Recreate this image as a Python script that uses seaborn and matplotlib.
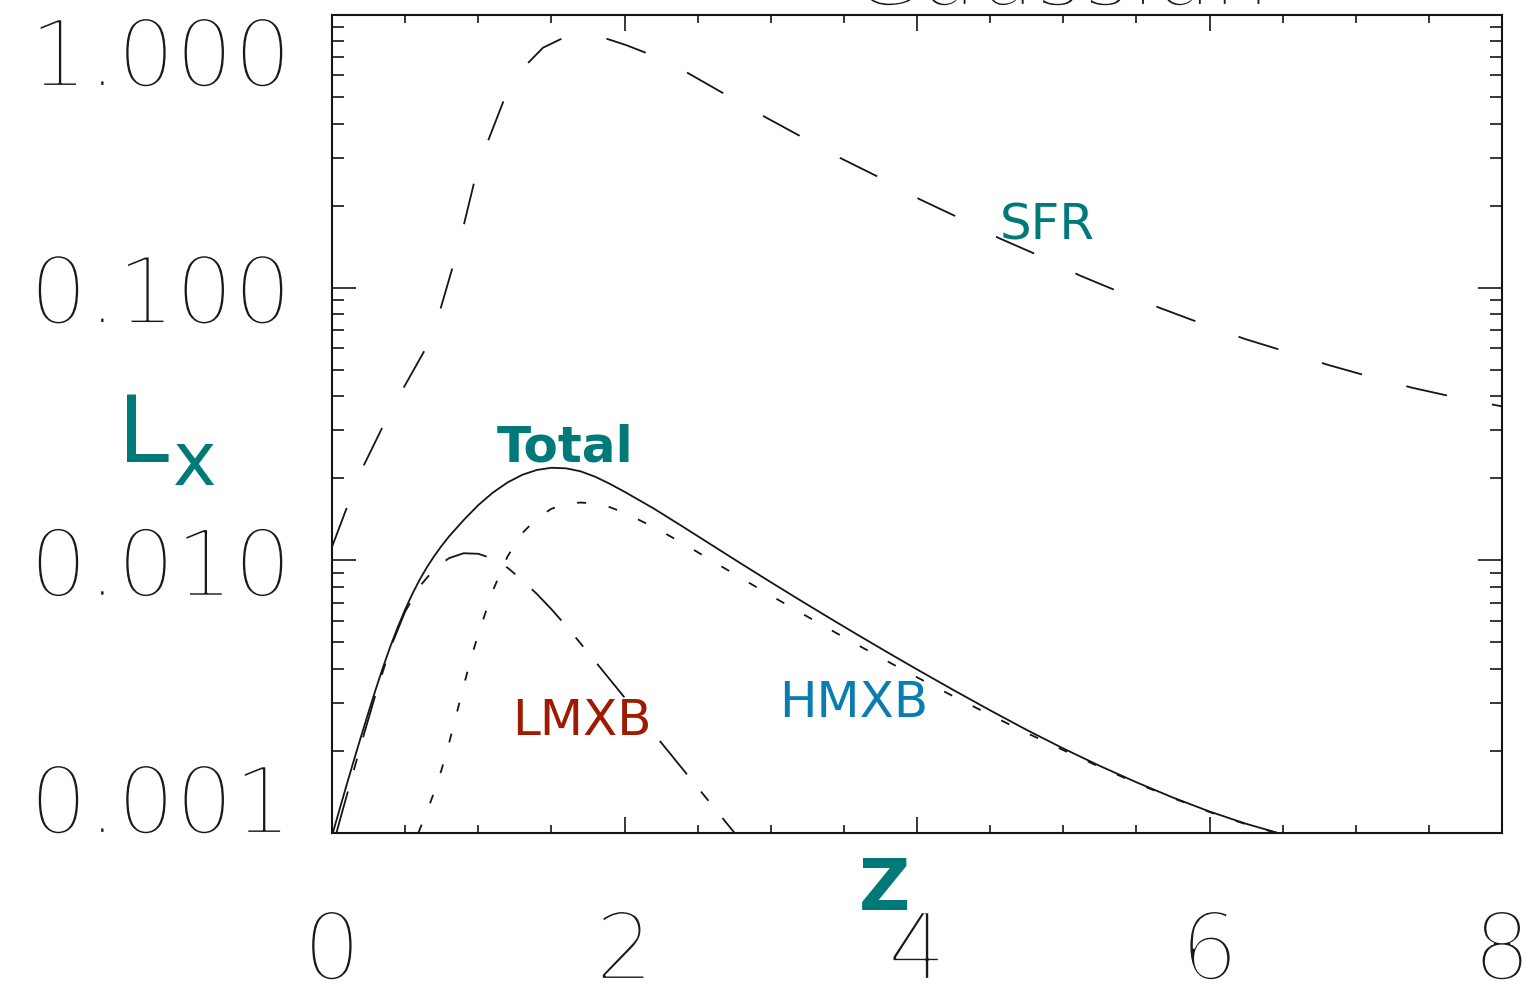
import numpy as np
import pandas as pd
import matplotlib
matplotlib.use("Agg")
import matplotlib.pyplot as plt
from matplotlib import font_manager
from matplotlib import patheffects as pe
from matplotlib.ticker import LogLocator, MultipleLocator, NullFormatter
import seaborn as sns

# ---------------- data ----------------
sfr_z = [0.0, 0.109, 0.212, 0.349, 0.485, 0.636, 0.738, 0.823, 0.898, 0.971,
         1.062, 1.171, 1.320, 1.443, 1.571, 1.718, 1.867, 2.01, 2.154, 2.421,
         2.696, 2.946, 3.225, 3.475, 3.76, 4.018, 4.30, 4.56, 4.85, 5.11,
         5.40, 5.66, 5.975, 6.24, 6.55, 6.81, 7.125, 7.39, 7.70, 8.0]
sfr_L = [0.0112, 0.0160, 0.0220, 0.0311, 0.0425, 0.0592, 0.0822, 0.118, 0.167, 0.242,
         0.340, 0.481, 0.650, 0.759, 0.819, 0.845, 0.822, 0.776, 0.724, 0.618,
         0.509, 0.427, 0.354, 0.299, 0.251, 0.211, 0.179, 0.152, 0.130, 0.111,
         0.0957, 0.0843, 0.0729, 0.0649, 0.0577, 0.0521, 0.0467, 0.0429, 0.0394, 0.0367]

lmxb_z = [0.03, 0.07, 0.12, 0.2, 0.3, 0.4, 0.5, 0.6, 0.7, 0.8, 0.9, 1.0, 1.1, 1.2,
          1.3, 1.4, 1.5, 1.6, 1.7, 1.8, 1.9, 2.0, 2.1, 2.2, 2.3, 2.4, 2.5, 2.6,
          2.7, 2.75, 2.9]
lmxb_L = [0.001000, 0.001197, 0.001493, 0.002128, 0.003251, 0.004786, 0.006486,
          0.008035, 0.009290, 0.010186, 0.010617, 0.010568, 0.010139, 0.009397,
          0.008472, 0.007534, 0.006622, 0.005754, 0.004955, 0.004256, 0.003656,
          0.003141, 0.002698, 0.002317, 0.001991, 0.001710, 0.001469, 0.001262,
          0.001084, 0.001005, 0.000800]

hmxb_z = [0.59, 0.65, 0.7, 0.75, 0.8, 0.85, 0.9, 0.95, 1.0, 1.1, 1.2, 1.3, 1.4, 1.5,
          1.6, 1.7, 1.8, 1.9, 2.0, 2.2, 2.4, 2.6, 2.8, 3.0, 3.2, 3.4, 3.6, 3.8,
          4.0, 4.25, 4.5, 4.75, 5.0, 5.25, 5.5, 5.75, 6.0, 6.25, 6.5, 7.0, 8.0]
hmxb_L = [0.001000, 0.001202, 0.001419, 0.001714, 0.002133, 0.002710, 0.003459,
          0.004355, 0.005358, 0.007745, 0.010328, 0.012560, 0.014256, 0.015453,
          0.016106, 0.016293, 0.016144, 0.015668, 0.014928, 0.013243, 0.011535,
          0.009954, 0.008590, 0.007430, 0.006442, 0.005598, 0.004875, 0.004256,
          0.003724, 0.003170, 0.002710, 0.002328, 0.002014, 0.001746, 0.001524,
          0.001343, 0.001194, 0.001076, 0.000986, 0.000849, 0.000630]

total_z = [0.0, 0.05, 0.1, 0.15, 0.2, 0.25, 0.3, 0.35, 0.4, 0.45, 0.5, 0.55, 0.6,
           0.65, 0.7, 0.75, 0.8, 0.9, 1.0, 1.1, 1.2, 1.3, 1.4, 1.5, 1.6, 1.7, 1.8,
           1.9, 2.0, 2.2, 2.4, 2.6, 2.8, 3.0, 3.2, 3.4, 3.6, 3.8, 4.0, 4.25, 4.5,
           4.75, 5.0, 5.25, 5.5, 5.75, 6.0, 6.25, 6.5, 7.0, 8.0]
total_L = [0.000977, 0.001212, 0.001501, 0.001851, 0.002272, 0.002777, 0.003377,
           0.004070, 0.004849, 0.005695, 0.006598, 0.007543, 0.008502, 0.009452,
           0.010387, 0.011311, 0.012232, 0.014044, 0.015940, 0.017721, 0.019297,
           0.020580, 0.021450, 0.021849, 0.021749, 0.021205, 0.020250, 0.019076,
           0.017843, 0.015488, 0.013274, 0.011350, 0.009705, 0.008318, 0.007145,
           0.006152, 0.005309, 0.004592, 0.003981, 0.003342, 0.002818, 0.002388,
           0.002042, 0.001762, 0.001535, 0.001349, 0.001199, 0.001081, 0.000989,
           0.000851, 0.000631]

xtick_values = [0, 2, 4, 6, 8]
xtick_labels = ["0", "2", "4", "6", "8"]
ytick_values = [0.001, 0.01, 0.1, 1.0]
ytick_labels = ["0.001", "0.010", "0.100", "1.000"]

curve_labels = ["SFR", "Total", "LMXB", "HMXB"]
curve_label_z = [4.568, 1.128, 1.231, 3.056]
curve_label_L = [0.1496, 0.02295, 0.00229, 0.002666]
curve_label_colors = ["#007A78", "#007A78", "#9E1A00", "#0A7DB0"]
curve_label_weights = ["normal", "bold", "normal", "normal"]

TEAL = "#007A78"
INK = "#151515"

# ---------------- style ----------------
sns.set_theme(style="white")
plt.rcParams["font.family"] = ["DejaVu Sans"]
plt.rcParams["lines.scale_dashes"] = False


def pick_thin_font():
    """Find an installed light face for the axis numbers."""
    for fam, w in [("DejaVu Sans", 200), ("Roboto", 100), ("Lato", 100),
                   ("Open Sans", 300), ("Lato", 300)]:
        try:
            path = font_manager.findfont(
                font_manager.FontProperties(family=fam, weight=w),
                fallback_to_default=False)
        except Exception:
            continue
        low = path.lower()
        if any(k in low for k in ("thin", "hairline", "extralight", "light")):
            return fam, w
    return "DejaVu Sans", "light"


thin_family, thin_weight = pick_thin_font()
num_font = dict(family=thin_family, weight=thin_weight, size=66)
# a white edge drawn over each glyph trims the strokes to hairlines
hairline = [pe.Stroke(linewidth=1.6, foreground="white")]

W, H = 1525, 985
fig = plt.figure(figsize=(W / 100, H / 100), dpi=100)
fig.patch.set_facecolor("white")
ax = fig.add_axes([332 / W, 1 - 833 / H, (1502 - 332) / W, (833 - 15) / H])
ax.set_facecolor("white")

# ---------------- curves ----------------
frames = {
    "SFR": pd.DataFrame({"z": sfr_z, "L": sfr_L}),
    "LMXB": pd.DataFrame({"z": lmxb_z, "L": lmxb_L}),
    "HMXB": pd.DataFrame({"z": hmxb_z, "L": hmxb_L}),
    "Total": pd.DataFrame({"z": total_z, "L": total_L}),
}
line_styles = {
    "SFR": (0, (30, 33)),
    "LMXB": (0, (31, 16, 8.5, 16)),
    "HMXB": (0, (6.5, 16.5)),
    "Total": "-",
}
for name, df in frames.items():
    sns.lineplot(data=df, x="z", y="L", ax=ax, color=INK, linewidth=1.3,
                 linestyle=line_styles[name], estimator=None, sort=False)

ax.set_yscale("log")
ax.set_xlim(0, 8)
ax.set_ylim(1e-3, 1.0)
ax.set_xlabel("")
ax.set_ylabel("")

# ---------------- axes frame and ticks ----------------
for sp in ax.spines.values():
    sp.set_visible(True)
    sp.set_color(INK)
    sp.set_linewidth(1.5)

ax.set_xticks(xtick_values, labels=xtick_labels)
ax.set_yticks(ytick_values, labels=ytick_labels)
ax.xaxis.set_minor_locator(MultipleLocator(0.5))
ax.yaxis.set_minor_locator(LogLocator(base=10, subs=np.arange(2, 10)))
ax.yaxis.set_minor_formatter(NullFormatter())

ax.tick_params(axis="both", which="both", direction="in",
               bottom=True, top=True, left=True, right=True,
               color=INK, width=1.2)
ax.tick_params(axis="x", which="major", length=11.5, pad=54)
ax.tick_params(axis="x", which="minor", length=5.8)
ax.tick_params(axis="y", which="major", length=17, pad=29)
ax.tick_params(axis="y", which="minor", length=8.6)

for lab in ax.get_xticklabels() + ax.get_yticklabels():
    lab.set_fontfamily(num_font["family"])
    lab.set_fontweight(num_font["weight"])
    lab.set_fontsize(num_font["size"])
    lab.set_color("#1a1a1a")
    lab.set_path_effects(hairline)
for lab in ax.get_yticklabels():
    if lab.get_text() == "1.000":
        lab.set_verticalalignment("top")
    elif lab.get_text() == "0.001":
        lab.set_verticalalignment("baseline")

# ---------------- annotations ----------------
for txt, zx, lv, col, wt in zip(curve_labels, curve_label_z, curve_label_L,
                                curve_label_colors, curve_label_weights):
    ax.text(zx, lv, txt, color=col, fontsize=36, fontweight=wt,
            ha="left", va="baseline", family="DejaVu Sans")

# axis titles
fig.text(118 / W, 1 - 462 / H, "L", color=TEAL, fontsize=66,
         ha="left", va="baseline", family="DejaVu Sans")
fig.text(173 / W, 1 - 485 / H, "x", color=TEAL, fontsize=53,
         ha="left", va="baseline", family="DejaVu Sans")
fig.text(885 / W, 1 - 910 / H, "Z", color=TEAL, fontsize=51, fontweight="bold",
         ha="center", va="baseline", family="DejaVu Sans")

# plot title, running off the top edge
fig.text(1060 / W, 1 - 5 / H, "Gaussian", color="#1a1a1a",
         fontfamily=num_font["family"], fontweight=num_font["weight"],
         fontsize=num_font["size"], ha="center", va="baseline",
         path_effects=hairline)

fig.savefig("out.png", dpi=100, facecolor="white")
